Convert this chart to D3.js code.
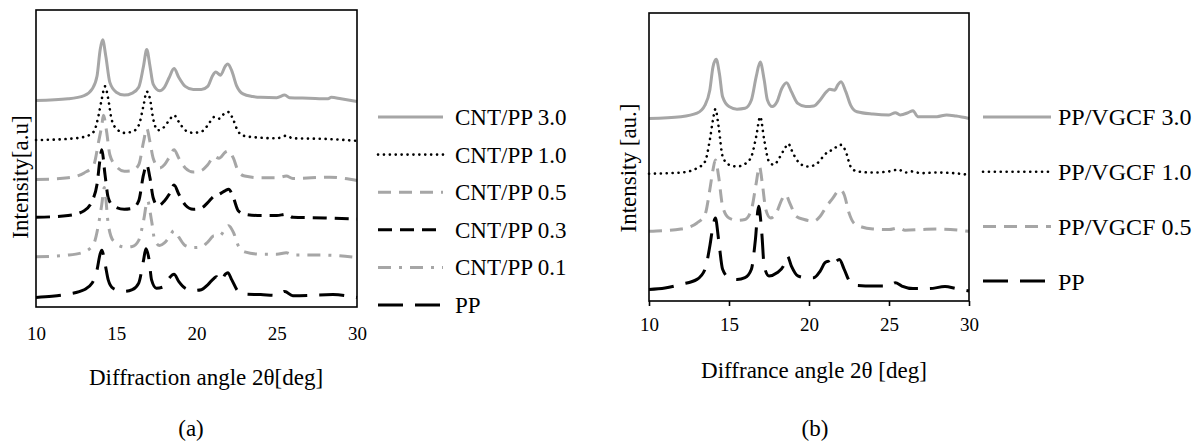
<!DOCTYPE html>
<html>
<head>
<meta charset="utf-8">
<script src="https://cdn.jsdelivr.net/npm/d3@7"></script>
<style>
  html, body { margin: 0; padding: 0; background: #fff; }
  svg { display: block; }
  text { font-family: "Liberation Serif", "Times New Roman", Times, serif; fill: #000; }
</style>
</head>
<body>
<svg id="chart" width="1198" height="442"></svg>
<script>
// ---------------- DATA (angle 2θ [deg], relative intensity incl. vertical offset) ----------------
const xTicks = [10, 15, 20, 25, 30];

const namesA = ["CNT/PP 3.0", "CNT/PP 1.0", "CNT/PP 0.5", "CNT/PP 0.3", "CNT/PP 0.1", "PP"];
const namesB = ["PP/VGCF 3.0", "PP/VGCF 1.0", "PP/VGCF 0.5", "PP"];

const titleA = "Diffraction angle 2θ[deg]";
const titleB = "Diffrance angle 2θ [deg]";
const yTitleA = "Intensity[a.u]";
const yTitleB = "Intensity [au.]";
const captionA = "(a)";
const captionB = "(b)";

// Panel (a)
const cntPP30 = [[10,68.6],[12,69.2],[13,70.3],[13.5,72.6],[13.8,77],[14.0,86.3],[14.15,89.7],[14.35,84],[14.6,74.9],[15,71.5],[15.5,70.5],[16,71.2],[16.4,73.2],[16.7,80.6],[16.9,86.3],[17.1,80.6],[17.3,74.3],[17.7,72],[18,73.2],[18.3,76.6],[18.6,79.7],[18.9,76.6],[19.3,73.5],[19.8,72.4],[20.3,72.4],[20.7,73.5],[21.0,77.2],[21.2,78.5],[21.5,77.4],[21.8,80.6],[21.95,81.3],[22.2,78.9],[22.5,73.7],[22.9,70.9],[23.5,70],[24,69.7],[25,69.6],[25.5,70.5],[25.8,69.6],[27,69.4],[28.2,69.2],[28.4,69.7],[29,69.2],[30,68.3]];
const cntPP10 = [[10,54.9],[12,55.3],[13,56],[13.6,57.8],[13.9,63.5],[14.1,69.2],[14.3,73.5],[14.5,69.2],[14.7,62.3],[15,58.9],[15.5,57.4],[16,57.8],[16.4,60],[16.7,66.9],[16.9,71.7],[17.1,69.2],[17.3,62.3],[17.6,58.3],[18,59.5],[18.3,61.8],[18.6,63.5],[18.9,61.2],[19.3,58.3],[19.8,57.4],[20.3,57.8],[20.7,60],[21.1,62.9],[21.4,62.3],[21.8,64.4],[22.0,64.6],[22.3,61.8],[22.6,57.8],[23,56.3],[24,55.7],[25,55.5],[25.6,56.4],[26,55.5],[28,55.3],[30,54.6]];
const cntPP05 = [[10,41.2],[12,41.8],[13,43.5],[13.6,46.3],[13.9,54.3],[14.1,60],[14.2,63.5],[14.4,57.8],[14.6,49.8],[15,45.8],[15.5,44.1],[16,44.3],[16.4,46.3],[16.7,54.3],[16.9,58.9],[17.1,54.3],[17.3,48.6],[17.7,45.2],[18,46.3],[18.3,48.9],[18.6,51.5],[18.9,48.6],[19.3,45.2],[19.8,43.8],[20.3,44.3],[20.7,46.3],[21.1,49.2],[21.4,48.6],[21.8,50.7],[22.0,51.1],[22.3,48.6],[22.6,44.1],[23,42.4],[24,41.8],[25,41.8],[25.6,42.4],[26,41.6],[28.3,42],[30,40.9]];
const cntPP03 = [[10,28.1],[12,28.7],[13,30.4],[13.5,33.8],[13.8,39.5],[14.0,48.6],[14.1,51.5],[14.3,42.9],[14.5,34.9],[14.8,32.1],[15.5,30.9],[16,31.2],[16.4,33.8],[16.7,42.9],[16.9,46.3],[17.1,41.8],[17.3,34.9],[17.6,32.1],[18,33.8],[18.3,36.1],[18.6,39.3],[18.9,36.1],[19.3,32.4],[19.8,30.9],[20.3,31.3],[20.7,33.2],[21.1,35.5],[21.4,36.1],[21.8,37.4],[22.0,37.8],[22.3,34.9],[22.6,30.4],[23,29.2],[24,28.7],[25,28.7],[25.6,29.2],[26,28.1],[28,27.9],[30,27.5]];
const cntPP01 = [[10,14.4],[12,15],[13,16.1],[13.6,19],[13.9,25.8],[14.1,32.6],[14.25,38.4],[14.5,25.8],[14.8,20.1],[15.5,17.8],[16,18],[16.4,20.1],[16.7,26.9],[16.95,33.8],[17.2,26.9],[17.4,20.1],[17.7,18.3],[18,19.2],[18.3,21.2],[18.6,23.5],[18.9,21.2],[19.3,18.3],[19.8,17.6],[20.3,17.8],[20.7,19.5],[21.1,21.7],[21.4,21.5],[21.8,24.1],[22.0,25.2],[22.3,22.9],[22.6,18.3],[23,16.1],[24,15.3],[25,15.3],[25.6,15.8],[26,15],[28,15],[30,14.2]];
const ppA = [[10,0.3],[11,0.7],[12,1.5],[13,3],[13.5,5.3],[13.8,9.8],[14.0,15.5],[14.1,16.7],[14.3,12.1],[14.5,6.4],[14.8,3.5],[15.5,2.4],[16,3],[16.4,5.3],[16.7,13.2],[16.85,17.2],[17.05,13.2],[17.2,6.4],[17.5,3.5],[18,4.1],[18.3,7],[18.6,8.4],[18.9,5.8],[19.3,3.5],[19.8,2.7],[20.3,3],[20.7,4.7],[21.1,7],[21.25,7.5],[21.5,5.8],[21.8,8.4],[21.95,8.9],[22.2,6.4],[22.6,2.4],[23,1.5],[24,1.3],[25,1],[25.5,2.4],[26,0.9],[28.5,1.3],[30,0.3]];

// Panel (b)
const vgcf30 = [[10,63.4],[12,64],[13,65.2],[13.5,68],[13.8,73.2],[14.0,81.3],[14.2,83.9],[14.4,79],[14.6,70.9],[15,67.5],[15.5,66.6],[16,66.9],[16.4,69.8],[16.7,77.9],[16.95,83],[17.2,76.7],[17.4,69.8],[17.7,67.5],[18,69.2],[18.3,73.8],[18.6,75.8],[18.9,72.7],[19.3,68.6],[19.8,67.5],[20.3,67.7],[20.7,69.8],[21.1,72.7],[21.3,73.5],[21.6,73.2],[21.8,75],[22.0,76.1],[22.3,72.7],[22.6,68],[23,65.7],[24,64.9],[25,64.6],[25.4,65.4],[25.7,64.6],[26.2,65.4],[26.5,66.1],[26.8,64],[28,64],[28.6,64.6],[29.2,64.2],[30,63.4]];
const vgcf10 = [[10,44.2],[12,44.6],[13,46.1],[13.5,48.4],[13.8,55.9],[14.0,62.9],[14.15,66.6],[14.35,60.6],[14.6,50.2],[15,47.3],[15.5,46.7],[16,47.6],[16.4,50.2],[16.7,57.1],[16.95,64],[17.2,55.9],[17.5,48.4],[17.8,47.3],[18.2,50.2],[18.5,53.1],[18.7,54.6],[19.0,51.3],[19.4,47.9],[19.9,46.7],[20.4,47.3],[20.8,49.6],[21.2,51.9],[21.5,52.5],[21.8,53.9],[22.0,54.2],[22.3,51.9],[22.6,46.7],[23,45],[24,44.6],[25,45],[25.6,45.6],[26,44.6],[26.4,45],[27,44.4],[28,44.6],[29,44.4],[30,43.8]];
const vgcf05 = [[10,24.2],[12,25],[13,27.1],[13.5,30],[13.8,38.6],[14.0,45.6],[14.15,49],[14.35,43.3],[14.6,32.9],[15,28.8],[15.5,28],[16,28.3],[16.4,31.7],[16.7,40.9],[16.9,46.7],[17.1,40],[17.3,31.7],[17.6,28.8],[18,31.1],[18.3,35.2],[18.55,36.9],[18.8,34],[19.2,29.4],[19.7,28.3],[20.3,27.7],[20.7,29.4],[21.1,32.9],[21.5,35.8],[21.8,38.1],[21.95,38.6],[22.2,36.9],[22.5,30.6],[22.8,27.1],[23.3,25.7],[24,25],[25,24.8],[25.6,25.4],[26,24.6],[27,24.8],[28,25],[30,24.2]];
const ppB = [[10,4],[11,4.5],[12,5.8],[13,7.5],[13.5,11],[13.8,19],[14.0,26],[14.15,28.8],[14.35,21.3],[14.6,11],[15,8.1],[15.5,7.5],[16,8.1],[16.4,11],[16.65,21.3],[16.85,32.9],[17.05,23.6],[17.2,12.1],[17.5,8.7],[18,9.8],[18.4,12.1],[18.65,15.6],[18.9,12.1],[19.3,8.7],[19.8,8.1],[20.3,8.1],[20.7,10.4],[21.0,13.3],[21.2,13.8],[21.4,12.1],[21.7,13.8],[21.9,14.4],[22.2,11],[22.6,6.3],[23,5.4],[24,5.2],[25,5.2],[25.4,6.3],[25.8,5.2],[26.5,4.3],[27.5,4.3],[28.5,5],[29.2,4.3],[30,3.5]];

const seriesA = [cntPP30, cntPP10, cntPP05, cntPP03, cntPP01, ppA];
const seriesB = [vgcf30, vgcf10, vgcf05, ppB];

// ---------------- STYLES ----------------
const GRAY = "#a6a6a6";
const styles = {
  solidGray:  { stroke: GRAY,   width: 3,   dash: null,          cap: "butt" },
  dotBlack:   { stroke: "#000", width: 2.6, dash: "0.1,5.8",     cap: "round" },
  dashGray:   { stroke: GRAY,   width: 3,   dash: "13,8",        cap: "butt" },
  dashBlack:  { stroke: "#000", width: 3,   dash: "14,8",        cap: "butt" },
  dashDotGray:{ stroke: GRAY,   width: 3,   dash: "13,8,3,8",    cap: "butt" },
  longDash:   { stroke: "#000", width: 3,   dash: "25,12",       cap: "butt" }
};
const stylesA = ["solidGray", "dotBlack", "dashGray", "dashBlack", "dashDotGray", "longDash"];
const stylesB = ["solidGray", "dotBlack", "dashGray", "longDash"];

const svg = d3.select("#chart");

function drawPanel(cfg) {
  const x = d3.scaleLinear().domain([10, 30]).range([cfg.left, cfg.right]);
  const y = d3.scaleLinear().domain(cfg.yDomain).range([cfg.bottom, cfg.top]);
  const g = svg.append("g");

  const line = d3.line()
    .x(d => x(d[0]))
    .y(d => y(d[1]))
    .curve(d3.curveMonotoneX);

  cfg.series.forEach((s, i) => {
    const st = styles[cfg.styles[i]];
    g.append("path")
      .datum(s)
      .attr("d", line)
      .attr("fill", "none")
      .attr("stroke", st.stroke)
      .attr("stroke-width", st.width)
      .attr("stroke-dasharray", st.dash)
      .attr("stroke-linecap", st.cap)
      .attr("stroke-linejoin", "round");
  });

  g.append("rect")
    .attr("x", cfg.left).attr("y", cfg.top)
    .attr("width", cfg.right - cfg.left).attr("height", cfg.bottom - cfg.top)
    .attr("fill", "none").attr("stroke", "#000").attr("stroke-width", 1.6);

  const axis = d3.axisBottom(x).tickValues(xTicks).tickSize(cfg.tickSize).tickPadding(cfg.tickPad).tickFormat(d3.format("d"));
  const ag = g.append("g").attr("transform", `translate(0,${cfg.bottom})`).call(axis);
  ag.select(".domain").remove();
  ag.selectAll(".tick line").attr("stroke", "#000").attr("stroke-width", 1.6);
  ag.selectAll(".tick text")
    .attr("font-family", '"Liberation Serif", "Times New Roman", serif')
    .attr("font-size", 19).attr("fill", "#000");

  g.append("text").attr("x", cfg.xTitleX).attr("y", cfg.xTitleY)
    .attr("text-anchor", "middle").attr("dy", "0.35em").attr("font-size", 23).text(cfg.xTitle);
  g.append("text")
    .attr("transform", `translate(${cfg.yTitleX},${cfg.yTitleY}) rotate(-90)`)
    .attr("text-anchor", "middle").attr("dy", "0.35em").attr("font-size", 23).text(cfg.yTitle);
  g.append("text").attr("x", cfg.capX).attr("y", 428)
    .attr("text-anchor", "middle").attr("dy", "0.35em").attr("font-size", 23).text(cfg.caption);

  cfg.names.forEach((n, i) => {
    const st = styles[cfg.styles[i]];
    const ly = cfg.legTop + i * cfg.legStep;
    g.append("line")
      .attr("x1", cfg.legX1).attr("x2", cfg.legX2).attr("y1", ly).attr("y2", ly)
      .attr("stroke", st.stroke).attr("stroke-width", st.width)
      .attr("stroke-dasharray", st.dash).attr("stroke-linecap", st.cap);
    g.append("text").attr("x", cfg.legTextX).attr("y", ly).attr("dy", "0.35em")
      .attr("font-size", cfg.legFont).text(n);
  });
}

drawPanel({
  left: 36, right: 357, top: 10, bottom: 307, yDomain: [-3, 100],
  series: seriesA, styles: stylesA, names: namesA,
  tickSize: 0, tickPad: 20,
  xTitle: titleA, xTitleX: 206, xTitleY: 377,
  yTitle: yTitleA, yTitleX: 20, yTitleY: 177,
  caption: captionA, capX: 191,
  legTop: 117, legStep: 37.6, legX1: 378, legX2: 443, legTextX: 455, legFont: 23
});

drawPanel({
  left: 649, right: 969, top: 13, bottom: 301, yDomain: [0, 100],
  series: seriesB, styles: stylesB, names: namesB,
  tickSize: 5, tickPad: 12,
  xTitle: titleB, xTitleX: 814, xTitleY: 370,
  yTitle: yTitleB, yTitleX: 628, yTitleY: 168,
  caption: captionB, capX: 815,
  legTop: 117, legStep: 54.7, legX1: 983, legX2: 1051, legTextX: 1058, legFont: 24
});
</script>
</body>
</html>
